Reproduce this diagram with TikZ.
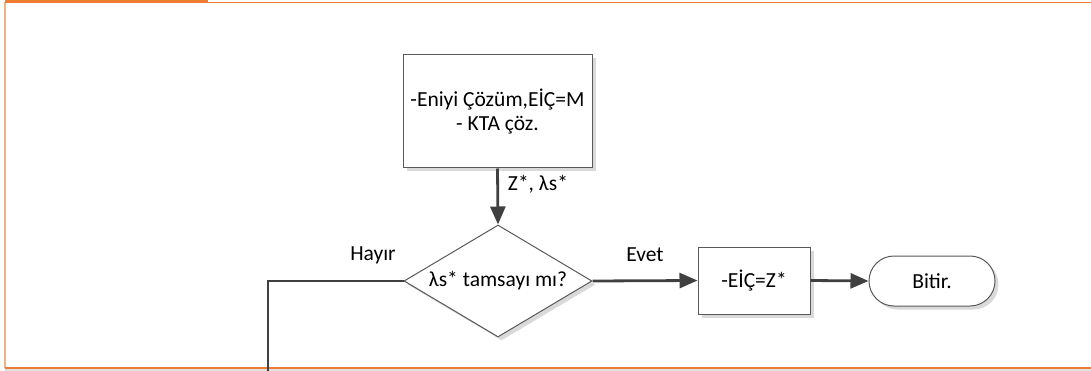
\documentclass[tikz,border=0pt]{standalone}
\usepackage{fontspec}
\setmainfont{Carlito}
\usetikzlibrary{shapes.geometric,shapes.misc,arrows.meta,shadows}
\definecolor{frameorange}{HTML}{ED7D31}
\definecolor{lightorange}{HTML}{F4B183}
\definecolor{linegray}{HTML}{404040}
\definecolor{bordergray}{HTML}{595959}
\begin{document}
\begin{tikzpicture}[x=1pt,y=1pt,
  every node/.style={font=\fontsize{21.5}{24}\selectfont, text=black},
  shd/.style={drop shadow={shadow xshift=3.5pt, shadow yshift=-3.5pt, fill=black!15, opacity=1}},
  procbox/.style={draw=bordergray, line width=1pt, fill=white, shd, inner sep=0pt, align=center},
  decbox/.style={diamond, draw=bordergray, line width=1pt, fill=white, shd, inner sep=0pt, shape aspect=1.68},
  termbox/.style={rounded rectangle, draw=bordergray, line width=1pt, fill=white, shd, inner sep=0pt},
  conn/.style={draw=linegray, line width=2.8pt},
  arr/.style={conn, -{Triangle[length=18pt,width=15pt]}},
  lbl/.style={inner sep=0pt}
]
\useasboundingbox (0,0) rectangle (1091,-371);
% frame
\fill[black!12] (5,-368) rectangle (1091,-371);
\draw[lightorange, line width=1.5pt] (5,-2) -- (5,-368);
\draw[frameorange, line width=1.5pt] (5,-368) -- (1091,-368);
\draw[frameorange, line width=1pt] (5,-2.5) -- (1091,-2.5);
\fill[frameorange] (5,0) rectangle (208,-3.5);
% nodes
\node[procbox, minimum width=189pt, minimum height=113pt] (box1) at (497.5,-111.5) {-Eniyi Çözüm,EİÇ=M\\- KTA çöz.};
\node[decbox, minimum width=188pt, minimum height=112pt] (dec) at (498,-281) {λs* tamsayı mı?};
\node[procbox, minimum width=112pt, minimum height=67pt] (box2) at (754,-280.5) {-EİÇ=Z*};
\node[termbox, minimum width=126pt, minimum height=50pt] (bitir) at (932,-281) {Bitir.};
\coordinate (corner) at (268,-281);
\coordinate (down) at (268,-371);
% connectors
\draw[arr] (box1.south) -- (dec.north);
\draw[arr] (dec.east) -- (box2.west);
\draw[arr] (box2.east) -- (bitir.west);
\draw[conn] (dec.west) -- (corner) -- (down);
% labels
\node[lbl] (lz) at (538,-184) {Z*, λs*};
\node[lbl] (lh) at (373,-255) {Hayır};
\node[lbl] (le) at (645,-255) {Evet};
\end{tikzpicture}
\end{document}
